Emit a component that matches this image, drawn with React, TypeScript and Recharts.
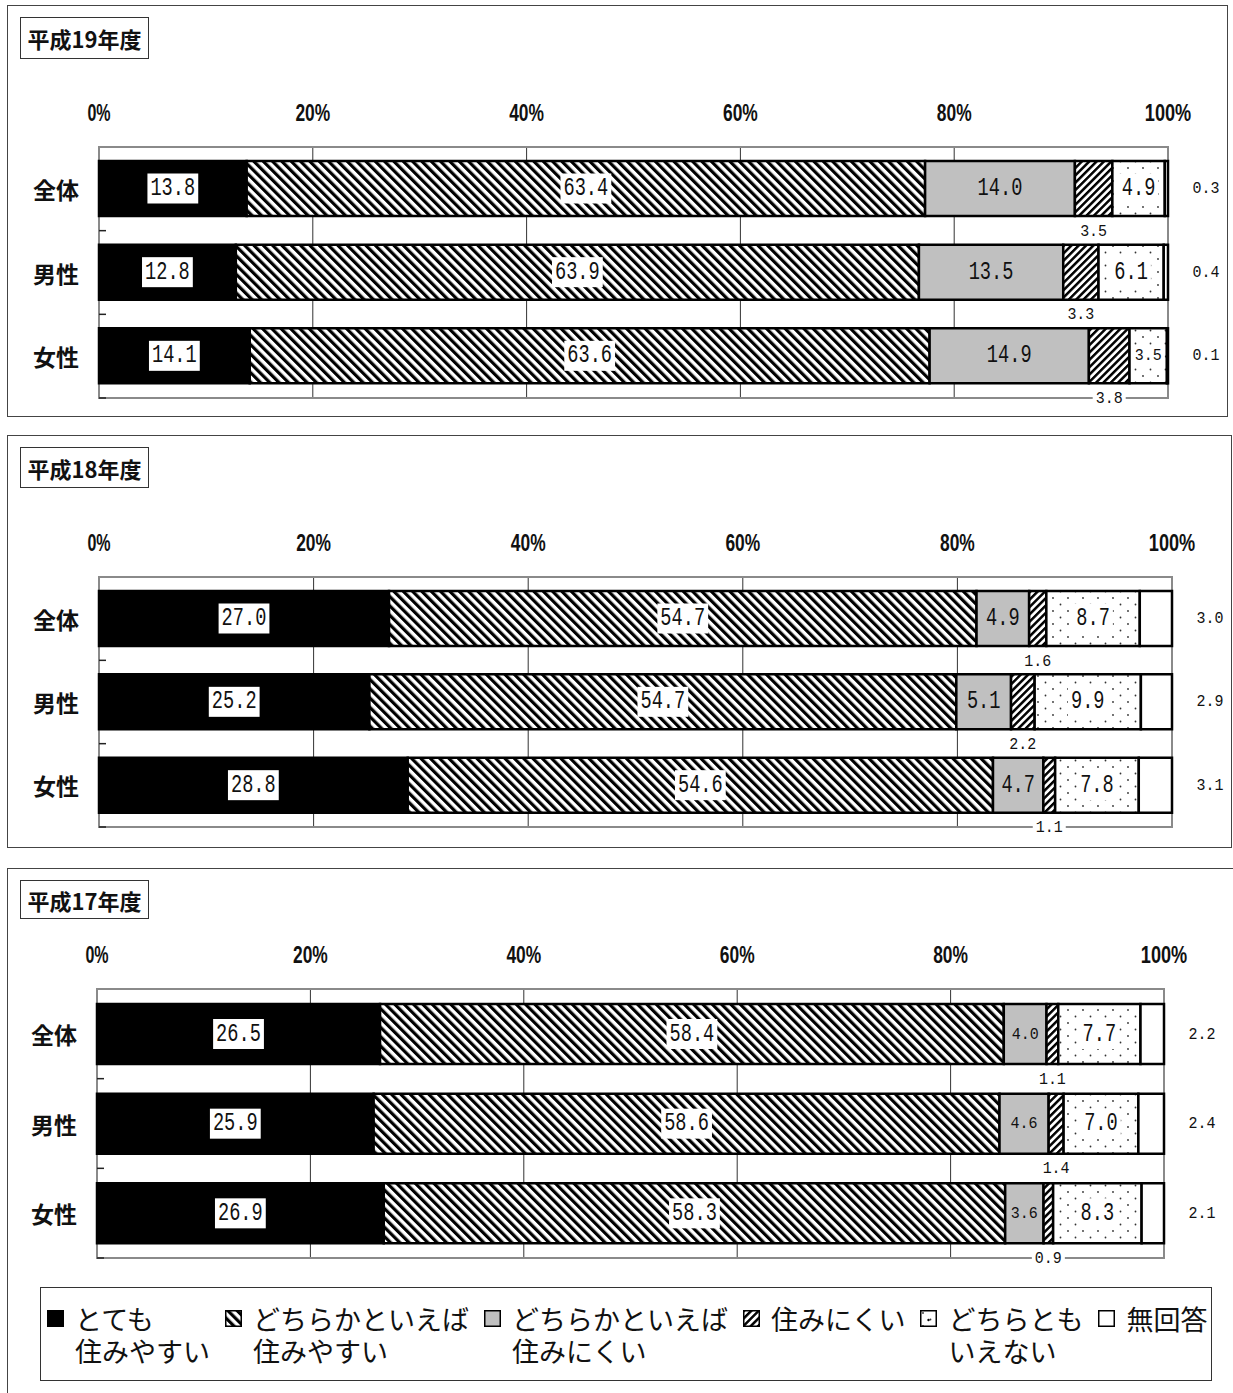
import React from 'react';
import { BarChart, Bar, XAxis, YAxis, CartesianGrid, LabelList, ReferenceArea } from 'recharts';

const CATEGORIES = ['全体', '男性', '女性'];
const SERIES_NAMES = [
  ['とても', '住みやすい'],
  ['どちらかといえば', '住みやすい'],
  ['どちらかといえば', '住みにくい'],
  ['住みにくい'],
  ['どちらとも', 'いえない'],
  ['無回答'],
];
const PERCENT_TICKS = [0, 0.2, 0.4, 0.6, 0.8, 1];

// 平成19年度
const H19_TOTAL = [13.8, 63.4, 14.0, 3.5, 4.9, 0.3];
const H19_MALE = [12.8, 63.9, 13.5, 3.3, 6.1, 0.4];
const H19_FEMALE = [14.1, 63.6, 14.9, 3.8, 3.5, 0.1];

// 平成18年度
const H18_TOTAL = [27.0, 54.7, 4.9, 1.6, 8.7, 3.0];
const H18_MALE = [25.2, 54.7, 5.1, 2.2, 9.9, 2.9];
const H18_FEMALE = [28.8, 54.6, 4.7, 1.1, 7.8, 3.1];

// 平成17年度
const H17_TOTAL = [26.5, 58.4, 4.0, 1.1, 7.7, 2.2];
const H17_MALE = [25.9, 58.6, 4.6, 1.4, 7.0, 2.4];
const H17_FEMALE = [26.9, 58.3, 3.6, 0.9, 8.3, 2.1];

const KEYS = ['a0', 'a1', 'a2', 'a3', 'a4', 'a5'];
// how each answer's value label is placed
const LABEL_KINDS = ['box', 'box', 'plain', 'below', 'dots', 'right'];

const JP_FONT = "'Noto Sans CJK JP', 'Noto Sans', sans-serif";
const NUM_FONT = "'Liberation Mono', 'DejaVu Sans Mono', monospace";

const toRows = (sets: number[][]) =>
  CATEGORIES.map((name, i) => {
    const row: Record<string, any> = { name };
    sets[i].forEach((v, j) => (row[KEYS[j]] = v));
    return row;
  });

const PANELS = [
  {
    id: 'h19',
    title: '平成19年度',
    rows: toRows([H19_TOTAL, H19_MALE, H19_FEMALE]),
    box: { left: 7, top: 5, width: 1221, height: 412 },
    titleBox: { left: 20, top: 17, width: 129, height: 42 },
    chartTop: 87,
    plotHeight: 251,
    marginLeft: 9,
    marginRight: 65,
    barSize: 55,
  },
  {
    id: 'h18',
    title: '平成18年度',
    rows: toRows([H18_TOTAL, H18_MALE, H18_FEMALE]),
    box: { left: 7, top: 435, width: 1225, height: 413 },
    titleBox: { left: 20, top: 447, width: 129, height: 41 },
    chartTop: 517,
    plotHeight: 250,
    marginLeft: 9,
    marginRight: 61,
    barSize: 55,
  },
  {
    id: 'h17',
    title: '平成17年度',
    rows: toRows([H17_TOTAL, H17_MALE, H17_FEMALE]),
    box: { left: 7, top: 868, width: 1240, height: 540 },
    titleBox: { left: 20, top: 880, width: 129, height: 39 },
    chartTop: 929,
    plotHeight: 269,
    marginLeft: 7,
    marginRight: 69,
    barSize: 60,
  },
];

const patternDefs = (id: string) => (
  <defs>
    <pattern id={`${id}-back`} patternUnits="userSpaceOnUse" width="6.6" height="6.6" patternTransform="rotate(-45)">
      <rect width="6.6" height="6.6" fill="#fff" />
      <rect width="3.2" height="6.6" fill="#000" />
    </pattern>
    <pattern id={`${id}-fwd`} patternUnits="userSpaceOnUse" width="5.2" height="5.2" patternTransform="rotate(45)">
      <rect width="5.2" height="5.2" fill="#fff" />
      <rect width="2.5" height="5.2" fill="#000" />
    </pattern>
    <pattern id={`${id}-dots`} patternUnits="userSpaceOnUse" width="15" height="13">
      <rect width="15" height="13" fill="#fff" />
      <circle cx="3" cy="3" r="0.9" fill="#333" />
      <circle cx="10.5" cy="9.5" r="0.9" fill="#333" />
    </pattern>
  </defs>
);

const fillsFor = (id: string) => ['#000', `url(#${id}-back)`, '#c0c0c0', `url(#${id}-fwd)`, `url(#${id}-dots)`, '#fff'];

function NumText({ cx, cy, text, big, box }: { cx: number; cy: number; text: string; big: boolean; box: boolean }) {
  const fs = big ? 25 : 17;
  const w = text.length * (big ? 11.2 : 9);
  const bh = big ? 30 : 20;
  return (
    <g>
      {box && <rect x={cx - w / 2 - 3} y={cy - bh / 2} width={w + 6} height={bh} fill="#fff" />}
      <text
        x={cx}
        y={cy}
        textAnchor="middle"
        dominantBaseline="central"
        fontSize={fs}
        fontFamily={NUM_FONT}
        textLength={w}
        lengthAdjust="spacingAndGlyphs"
        fill="#111"
      >
        {text}
      </text>
    </g>
  );
}

const makeLabel = (rows: any[], key: string, kind: string) => (props: any) => {
  const vb = props.viewBox && props.viewBox.width != null ? props.viewBox : props;
  const x = Number(vb.x);
  const y = Number(vb.y);
  const w = Number(vb.width);
  const h = Number(vb.height);
  const raw = typeof props.index === 'number' && rows[props.index] ? rows[props.index][key] : props.value;
  if (typeof raw !== 'number' || isNaN(x)) return null;
  const text = raw.toFixed(1);
  const cx = x + w / 2;
  const cy = y + h / 2;
  switch (kind) {
    case 'box':
      return <NumText cx={cx} cy={cy} text={text} big box />;
    case 'plain':
      return <NumText cx={cx} cy={cy} text={text} big={w >= 50} box={false} />;
    case 'dots':
      return <NumText cx={cx} cy={cy} text={text} big={w >= 50} box />;
    case 'below':
      return <NumText cx={cx} cy={y + h + 15} text={text} big={false} box />;
    default:
      return <NumText cx={x + w + 38} cy={cy} text={text} big={false} box={false} />;
  }
};

const PercentTick = (props: any) => {
  const { x, y, payload } = props;
  const t = `${Math.round(payload.value * 100)}%`;
  return (
    <text
      x={x}
      y={y - 34}
      textAnchor="middle"
      dominantBaseline="central"
      fontSize={23}
      fontWeight={700}
      fontFamily="'Liberation Sans', sans-serif"
      textLength={t.length * 11.6}
      lengthAdjust="spacingAndGlyphs"
      fill="#111"
    >
      {t}
    </text>
  );
};

const makeCategoryTick = (band: number) => (props: any) => {
  const { x, y, payload } = props;
  return (
    <g>
      <text x={x - 20} y={y} textAnchor="end" dominantBaseline="central" fontSize={23} fontWeight={700} fontFamily={JP_FONT} fill="#111">
        {payload.value}
      </text>
      <line x1={x} x2={x + 7} y1={y + band / 2} y2={y + band / 2} stroke="#222" strokeWidth={1.5} />
    </g>
  );
};

function Panel({ p }: { p: (typeof PANELS)[number] }) {
  const marginTop = 10;
  const axisHeight = 50;
  const marginBottom = 40;
  const height = marginTop + axisHeight + p.plotHeight + marginBottom;
  const fills = fillsFor(p.id);
  return (
    <>
      <div style={{ position: 'absolute', ...p.box, border: '1.5px solid #444', boxSizing: 'border-box' }} />
      <div
        style={{
          position: 'absolute',
          ...p.titleBox,
          border: '1.5px solid #333',
          boxSizing: 'border-box',
          display: 'flex',
          alignItems: 'center',
          justifyContent: 'center',
          fontFamily: JP_FONT,
          fontWeight: 700,
          fontSize: 22,
          color: '#111',
        }}
      >
        {p.title}
      </div>
      <div style={{ position: 'absolute', left: 0, top: p.chartTop }}>
        <BarChart
          width={1233}
          height={height}
          data={p.rows}
          layout="vertical"
          stackOffset="expand"
          margin={{ top: marginTop, right: p.marginRight, bottom: marginBottom, left: p.marginLeft }}
        >
          {patternDefs(p.id)}
          <CartesianGrid horizontal={false} stroke="#333" strokeWidth={1} />
          <XAxis
            type="number"
            orientation="top"
            domain={[0, 1]}
            ticks={PERCENT_TICKS}
            interval={0}
            height={axisHeight}
            axisLine={false}
            tickLine={false}
            tickSize={0}
            tickMargin={0}
            tick={PercentTick}
          />
          <YAxis
            type="category"
            dataKey="name"
            width={90}
            axisLine={false}
            tickLine={false}
            tickSize={0}
            tickMargin={0}
            interval={0}
            tick={makeCategoryTick(p.plotHeight / CATEGORIES.length)}
          />
          <ReferenceArea x1={0} x2={1} fill="none" stroke="#8a8a8a" strokeWidth={2} ifOverflow="visible" />
          {KEYS.map((k, i) => (
            <Bar
              key={k}
              dataKey={k}
              name={SERIES_NAMES[i].join('')}
              stackId="all"
              fill={fills[i]}
              stroke="#000"
              strokeWidth={2.5}
              barSize={p.barSize}
              isAnimationActive={false}
            >
              <LabelList dataKey={k} content={makeLabel(p.rows, k, LABEL_KINDS[i])} />
            </Bar>
          ))}
        </BarChart>
      </div>
    </>
  );
}

function LegendMarker({ index }: { index: number }) {
  const fills = fillsFor('lg');
  return (
    <svg width={17} height={17} style={{ flex: 'none', marginTop: 7.5, marginRight: 11 }}>
      {patternDefs('lg')}
      <rect x={0.75} y={0.75} width={15.5} height={15.5} fill={fills[index]} stroke="#000" strokeWidth={1.5} />
      {index === 4 && <circle cx={8.5} cy={10} r={1.2} fill="#000" />}
    </svg>
  );
}

function Legend() {
  return (
    <div
      style={{
        position: 'absolute',
        left: 40,
        top: 1287,
        width: 1172,
        height: 94,
        border: '1.5px solid #333',
        boxSizing: 'border-box',
        display: 'flex',
        alignItems: 'flex-start',
        gap: 15,
        paddingLeft: 6,
        paddingTop: 14.5,
        fontFamily: JP_FONT,
        fontSize: 27,
        lineHeight: '32px',
        color: '#111',
      }}
    >
      {SERIES_NAMES.map((lines, i) => (
        <div key={i} style={{ display: 'flex', alignItems: 'flex-start' }}>
          <LegendMarker index={i} />
          <div style={{ whiteSpace: 'nowrap' }}>
            {lines.map((l, j) => (
              <div key={j}>{l}</div>
            ))}
          </div>
        </div>
      ))}
    </div>
  );
}

export default function App() {
  return (
    <div style={{ position: 'absolute', left: 0, top: 0, width: 1233, height: 1393, overflow: 'hidden', background: '#fff' }}>
      {PANELS.map((p) => (
        <Panel key={p.id} p={p} />
      ))}
      <Legend />
    </div>
  );
}
